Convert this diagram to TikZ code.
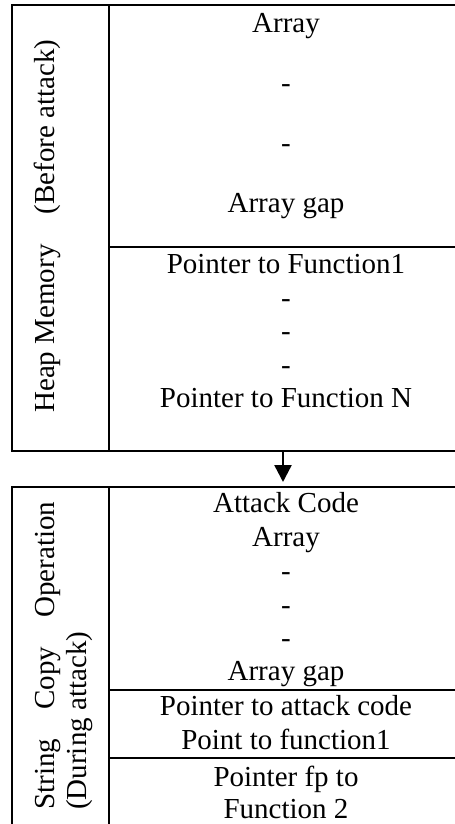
\documentclass[tikz,border=0pt]{standalone}
\usepackage{fontspec}
\setmainfont{Liberation Serif}
\usetikzlibrary{arrows.meta}
\begin{document}
\begin{tikzpicture}[x=1bp,y=1bp,
  frame/.style={draw=black, line width=2.6bp},
  txt/.style={font=\fontsize{29bp}{34bp}\selectfont, inner sep=0pt, anchor=base},
  side/.style={txt, rotate=90, anchor=base west},
  conn/.style={draw=black, line width=2.4bp, -{Triangle[width=17bp,length=17bp]}}]
\useasboundingbox (0,0) rectangle (455,-824);
\clip (0,0) rectangle (455,-824);
% top box
\draw[frame] (12,-5) rectangle (461,-451);
\draw[frame] (109,-5) -- (109,-451);
\draw[frame] (109,-247) -- (461,-247);
\node[txt] (a1) at (286,-32) {Array};
\node[txt] (a2) at (286,-92) {-};
\node[txt] (a3) at (286,-152) {-};
\node[txt] (a4) at (286,-212) {Array gap};
\node[txt] (b1) at (286,-273) {Pointer to Function1};
\node[txt] (b2) at (286,-307) {-};
\node[txt] (b3) at (286,-340) {-};
\node[txt] (b4) at (286,-374) {-};
\node[txt] (b5) at (286,-407) {Pointer to Function N};
\node[side] (s1) at (54,-413) {Heap Memory\hspace{30bp}(Before attack)};
% connector
\coordinate (topbot) at (283,-451);
\coordinate (bottop) at (283,-482);
\draw[conn] (topbot) -- (bottop);
% bottom box
\draw[frame] (12,-487) rectangle (461,-840);
\draw[frame] (109,-487) -- (109,-840);
\draw[frame] (109,-690) -- (461,-690);
\draw[frame] (109,-758) -- (461,-758);
\node[txt] (c1) at (286,-512) {Attack Code};
\node[txt] (c2) at (286,-546) {Array};
\node[txt] (c3) at (286,-580) {-};
\node[txt] (c4) at (286,-614) {-};
\node[txt] (c5) at (286,-647) {-};
\node[txt] (c6) at (286,-680) {Array gap};
\node[txt] (d1) at (286,-715) {Pointer to attack code};
\node[txt] (d2) at (286,-749) {Point to function1};
\node[txt] (e1) at (286,-786) {Pointer fp to};
\node[txt] (e2) at (286,-818) {Function 2};
\node[side] (s2) at (54,-810) {\makebox[308bp]{String\hfill Copy\hfill Operation}};
\node[side] (s3) at (86,-810) {(During attack)};
\end{tikzpicture}
\end{document}
